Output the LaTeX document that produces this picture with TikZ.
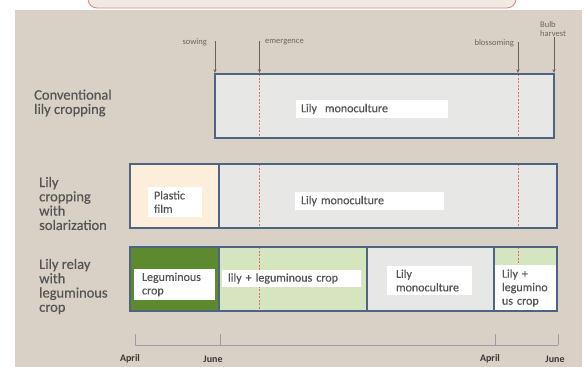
\documentclass[tikz,border=0pt]{standalone}
\usepackage{fontspec}
\setmainfont{Carlito}
\usetikzlibrary{arrows.meta}
\definecolor{bg}{HTML}{D9D1C5}
\definecolor{topfill}{HTML}{EFEBE3}
\definecolor{topline}{HTML}{D98585}
\definecolor{boxline}{HTML}{4D6482}
\definecolor{greyfill}{HTML}{E7E7E6}
\definecolor{peach}{HTML}{FCEEDA}
\definecolor{dkgreen}{HTML}{5E8A2F}
\definecolor{ltgreen}{HTML}{D5E5BF}
\definecolor{redd}{HTML}{E86A6A}
\definecolor{txt}{HTML}{555555}
\definecolor{evtxt}{HTML}{6E6660}
\definecolor{arr}{HTML}{6B6058}
\definecolor{tl}{HTML}{9C9CAA}
\tikzset{
  seg/.style={inner sep=0pt, outer sep=0pt, anchor=north west},
  frame/.style={draw=boxline, line width=1.4pt, inner sep=0pt, outer sep=0pt, anchor=north west},
  divider/.style={draw=boxline, line width=1.4pt},
  reddash/.style={draw=redd, line width=0.8pt, dash pattern=on 2pt off 1.5pt},
  lab/.style={fill=white, anchor=north west, inner ysep=0pt, outer sep=0pt, align=left,
              text=txt, font=\fontsize{12}{13.5}\selectfont\addfontfeatures{FakeBold=0.4}},
  rowlab/.style={anchor=west, align=left, inner sep=0pt, text=txt,
              font=\fontsize{14.5}{14.3}\selectfont\addfontfeatures{FakeBold=0.5}},
  evlab/.style={inner sep=0pt, text=evtxt, font=\fontsize{8.5}{8.5}\selectfont},
  evarrow/.style={draw=arr, line width=0.8pt, -{Stealth[length=3.5pt,width=3pt]}, shorten >=1.2pt},
  month/.style={inner sep=0pt, text=black!78, font=\bfseries\fontsize{10}{10}\selectfont},
  tline/.style={draw=tl, line width=0.6pt}
}
\begin{document}
\begin{tikzpicture}[x=1pt,y=-1pt]
\clip (0,0) rectangle (587,367);
\fill[white] (0,0) rectangle (587,367);
\fill[bg] (15,10) rectangle (582,367);
% top rounded box
\draw[fill=topfill, draw=topline, line width=0.8pt, rounded corners=9pt] (88,-20) rectangle (516,8);

% ---- row 1 ----
\node[seg, fill=greyfill, minimum width=339pt, minimum height=64pt] (b1) at (215,74) {};
\draw[reddash] (259.5,74) -- (259.5,138);
\draw[reddash] (518,74) -- (518,138);
\node[frame, minimum width=339pt, minimum height=64pt] (f1) at (215,74) {};
\node[lab, minimum height=18pt, text width=142pt, inner xsep=5pt] (l1) at (296,100) {Lily\ \ monoculture};

% ---- row 2 ----
\node[seg, fill=peach, minimum width=89pt, minimum height=64pt] (b2a) at (130,164) {};
\node[seg, fill=greyfill, minimum width=338pt, minimum height=64pt] (b2b) at (219,164) {};
\draw[reddash] (259.5,164) -- (259.5,228);
\draw[reddash] (518,164) -- (518,228);
\node[frame, minimum width=427pt, minimum height=64pt] (f2) at (130,164) {};
\draw[divider] (b2a.north east) -- (b2a.south east);
\node[lab, minimum height=30pt, text width=42pt, inner xsep=6pt] (l2a) at (148,187) {Plastic\\film};
\node[lab, minimum height=18pt, text width=137pt, inner xsep=6pt] (l2b) at (295,192) {Lily monoculture};

% ---- row 3 ----
\node[seg, fill=dkgreen, minimum width=89pt, minimum height=64pt] (b3a) at (130,247) {};
\node[seg, fill=ltgreen, minimum width=148pt, minimum height=64pt] (b3b) at (219,247) {};
\node[seg, fill=greyfill, minimum width=127pt, minimum height=64pt] (b3c) at (367,247) {};
\node[seg, fill=ltgreen, minimum width=63pt, minimum height=64pt] (b3d) at (494,247) {};
\draw[reddash] (259.5,247) -- (259.5,311);
\draw[reddash] (518,247) -- (518,265);
\node[lab, minimum height=46pt, text width=47pt, inner xsep=8pt] (l3d) at (494,265) {Lily +\\legumino\\us crop};
\node[frame, minimum width=427pt, minimum height=64pt] (f3) at (130,247) {};
\draw[divider] (b3a.north east) -- (b3a.south east);
\draw[divider] (b3b.north east) -- (b3b.south east);
\draw[divider] (b3c.north east) -- (b3c.south east);
\node[lab, minimum height=31pt, text width=65pt, inner xsep=8pt] (l3a) at (134,269) {Leguminous\\crop};
\node[lab, minimum height=17pt, text width=127pt, inner xsep=6pt] (l3b) at (222,270) {lily + leguminous crop};
\node[lab, minimum height=29pt, text width=67pt, inner xsep=9pt] (l3c) at (387,266) {Lily\\monoculture};

% ---- row labels ----
\node[rowlab] (r1) at (34,103) {Conventional\\lily cropping};
\node[rowlab] (r2) at (39,203.5) {Lily\\cropping\\with\\solarization};
\node[rowlab] (r3) at (39,286.5) {Lily relay\\with\\leguminous\\crop};

% ---- events ----
\coordinate (sowT) at (215,41);
\coordinate (sowB) at (215,74);
\coordinate (emT) at (259.5,41);
\coordinate (emB) at (259.5,74);
\coordinate (blT) at (518,42);
\coordinate (blB) at (518,74);
\coordinate (hvT) at (554,37);
\coordinate (hvB) at (554,74);
\draw[evarrow] (sowT) -- (sowB);
\draw[evarrow] (emT) -- (emB);
\draw[evarrow] (blT) -- (blB);
\draw[evarrow] (hvT) -- (hvB);
\node[evlab, anchor=east] (sowL) at (207,42) {sowing};
\node[evlab, anchor=west] (emL) at (265,42) {emergence};
\node[evlab, anchor=east] (blL) at (514,43.5) {blossoming};
\node[evlab, anchor=west, align=left, font=\fontsize{8.5}{8.5}\selectfont] (hvL) at (540,29) {Bulb\\harvest};

% ---- timeline ----
\coordinate (t1) at (135,345);
\coordinate (t2) at (220,345);
\coordinate (t3) at (495,345);
\coordinate (t4) at (558,345);
\draw[tline] (t1) -- (t4);
\foreach \t in {t1,t2,t3,t4} \draw[tline] (\t) -- ++(0,-11);
\node[month] (m1) at (130,359) {April};
\node[month] (m2) at (213,359) {June};
\node[month] (m3) at (490,359) {April};
\node[month] (m4) at (555,359) {June};
\end{tikzpicture}
\end{document}
